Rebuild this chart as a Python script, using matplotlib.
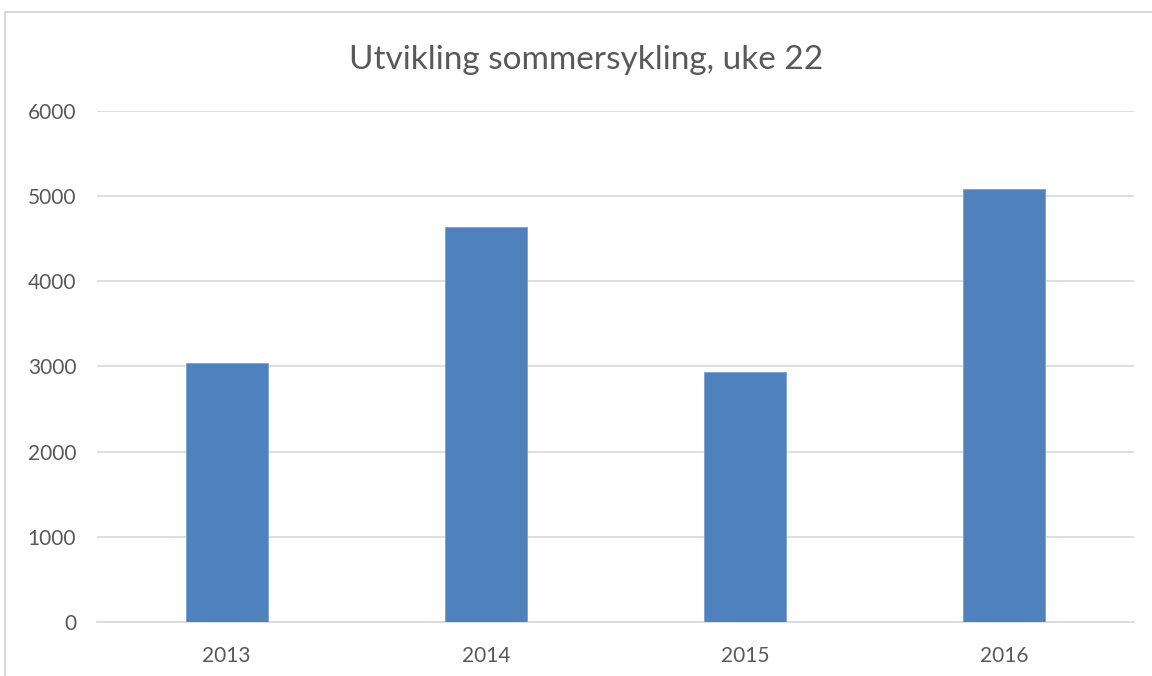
import matplotlib.pyplot as plt
from matplotlib.patches import Rectangle

years = ["2013", "2014", "2015", "2016"]
counts = [3036, 4631, 2931, 5076]
y_ticks = [0, 1000, 2000, 3000, 4000, 5000, 6000]

plt.rcParams['font.family'] = ['Lato', 'DejaVu Sans']

fig = plt.figure(figsize=(11.52, 6.76), dpi=100)
ax = fig.add_axes([97 / 1152, 1 - 622.3 / 676, 1037 / 1152, 511.6 / 676])

x = range(len(years))
ax.bar(x, counts, width=0.317, color='#4f81bd', edgecolor='#7a9fd0', linewidth=0.6, zorder=3)

ax.set_xlim(-0.5, 3.5)
ax.set_ylim(0, 6000)
ax.set_xticks(list(x))
ax.set_xticklabels(years)
ax.set_yticks(y_ticks)
ax.set_yticklabels([str(v) for v in y_ticks])

ax.grid(axis='y', color='#d9d9d9', linewidth=1.2, zorder=0)
for s in ['top', 'right', 'left']:
    ax.spines[s].set_visible(False)
ax.spines['bottom'].set_color('#d9d9d9')
ax.spines['bottom'].set_linewidth(1.2)

ax.tick_params(axis='both', length=0, labelsize=15, labelcolor='#595959')
ax.tick_params(axis='y', pad=15)
ax.tick_params(axis='x', pad=17)

fig.text(586 / 1152, 1 - 60 / 676, "Utvikling sommersykling, uke 22",
         ha='center', va='center', fontsize=24, color='#595959')

# chart area border (cropped on the right and bottom)
fig.patches.append(Rectangle((4.5 / 1152, -0.1), 2, 1 + 0.1 - 11.5 / 676,
                             transform=fig.transFigure, fill=False,
                             edgecolor='#d9d9d9', linewidth=1.5))

plt.savefig('out.png', dpi=100)
